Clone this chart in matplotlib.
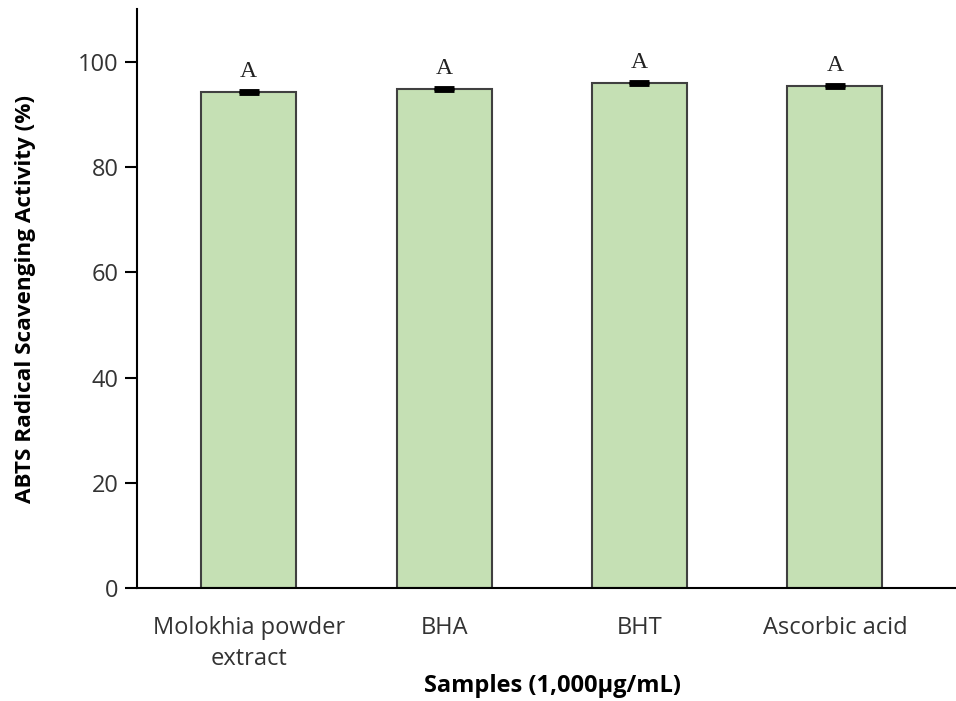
import matplotlib.pyplot as plt
import numpy as np

samples = ['Molokhia powder\nextract', 'BHA', 'BHT', 'Ascorbic acid']
activity = [94.3, 94.9, 96.0, 95.4]
errors = [0.2, 0.2, 0.2, 0.2]
letters = ['A', 'A', 'A', 'A']

plt.rcParams['font.family'] = ['Open Sans', 'DejaVu Sans']

x = np.arange(len(samples))

fig = plt.figure(figsize=(9.56, 7.01), dpi=100)
ax = fig.add_axes([0.143, 0.161, 0.857, 0.826])

bars = ax.bar(x, activity, 0.486, color='#c5e0b4', edgecolor='#404040', linewidth=1.5,
              yerr=errors, error_kw=dict(ecolor='black', elinewidth=3, capsize=7, capthick=3.5))

for xi, v, e, lab in zip(x, activity, errors, letters):
    ax.text(xi, v + e + 1.6, lab, ha='center', va='bottom', fontsize=17,
            family='Liberation Serif', color='#222222')

ax.set_xlim(-0.573, 3.62)
ax.set_ylim(0, 110)
ax.set_yticks([0, 20, 40, 60, 80, 100])
ax.set_xticks(x)
ax.set_xticklabels(samples, fontsize=17, color='#333333', linespacing=1.38)
ax.tick_params(axis='y', labelsize=17, labelcolor='#333333', length=9, width=1.5, pad=4)
ax.tick_params(axis='x', length=0, pad=20)

ax.spines['top'].set_visible(False)
ax.spines['right'].set_visible(False)
ax.spines['left'].set_linewidth(1.5)
ax.spines['bottom'].set_linewidth(1.5)

ax.set_ylabel('ABTS Radical Scavenging Activity (%)', fontsize=16.2, fontweight='bold', labelpad=30)
fig.text(0.578, 0.021, 'Samples (1,000\u03bcg/mL)', fontsize=17, fontweight='bold',
         ha='center', va='center')

fig.savefig('out.png', dpi=100)
